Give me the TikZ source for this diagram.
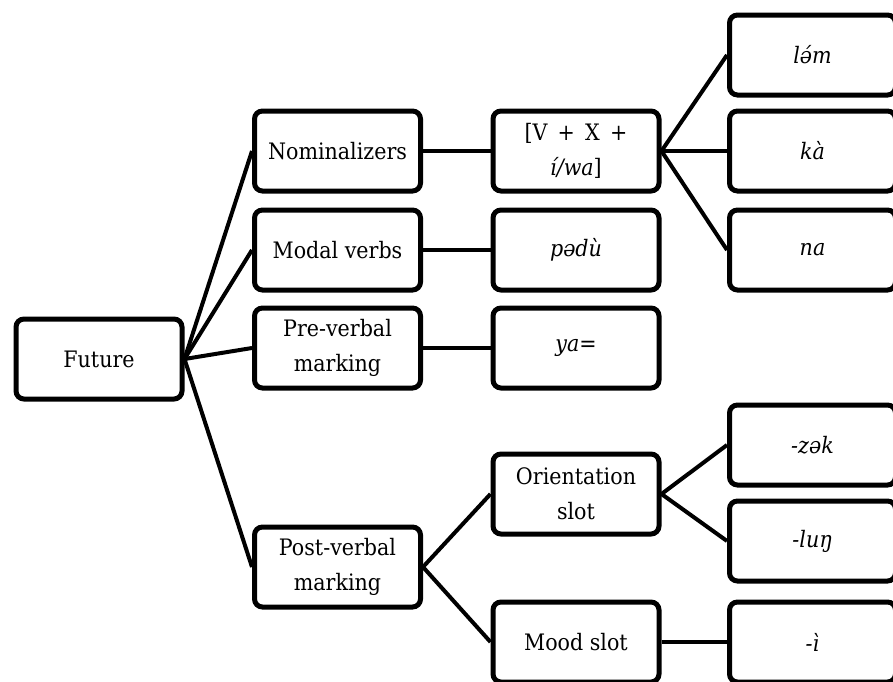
\documentclass[tikz,border=0pt]{standalone}
\usepackage{fontspec}
\setmainfont{DejaVu Serif}[FakeStretch=0.91]
\newcommand{\wsp}{\hspace{0.45em}}
\begin{document}
\begin{tikzpicture}[x=0.75pt,y=-0.75pt,
  box/.style={draw, line width=3.75pt, rounded corners=6pt,
    minimum width=124.5pt, minimum height=60pt, inner sep=0pt,
    align=center, font=\fontsize{17}{26}\selectfont},
  link/.style={line width=3pt}]
\useasboundingbox (0,0) rectangle (893,682);
\clip (0,0) rectangle (893,682);

% root
\node[box] (fut) at (99,359) {Future};

% strategies
\node[box] (nom)  at (337.5,151) {Nominalizers};
\node[box] (mod)  at (337.5,250) {Modal verbs};
\node[box] (pre)  at (337.5,348) {Pre-verbal\\marking};
\node[box] (post) at (337.5,567) {Post-verbal\\marking};

% forms and slots
\node[box] (vx)   at (576,151) {[V\wsp+\wsp X\wsp+\\\textit{í/wa}]};
\node[box] (pdu)  at (576,250) {\textit{pədù}};
\node[box] (ya)   at (576,348) {\textit{ya}=};
\node[box] (ori)  at (576,494) {Orientation\\slot};
\node[box] (mood) at (576,642) {Mood slot};

% morphemes
\node[box] (lam) at (812.5,55)  {\textit{lə́m}};
\node[box] (ka)  at (812.5,151) {\textit{kà}};
\node[box] (na)  at (812.5,250) {\textit{na}};
\node[box] (zek) at (812.5,445) {\textit{-zək}};
\node[box] (lun) at (812.5,541) {\textit{-luŋ}};
\node[box] (ii)  at (812.5,642) {\textit{-ì}};

% connectors
\draw[link] (fut.east) -- (nom.west);
\draw[link] (fut.east) -- (mod.west);
\draw[link] (fut.east) -- (pre.west);
\draw[link] (fut.east) -- (post.west);
\draw[link] (nom.east) -- (vx.west);
\draw[link] (mod.east) -- (pdu.west);
\draw[link] (pre.east) -- (ya.west);
\draw[link] (post.east) -- (ori.west);
\draw[link] (post.east) -- (mood.west);
\draw[link] (vx.east) -- (lam.west);
\draw[link] (vx.east) -- (ka.west);
\draw[link] (vx.east) -- (na.west);
\draw[link] (ori.east) -- (zek.west);
\draw[link] (ori.east) -- (lun.west);
\draw[link] (mood.east) -- (ii.west);
\end{tikzpicture}
\end{document}
